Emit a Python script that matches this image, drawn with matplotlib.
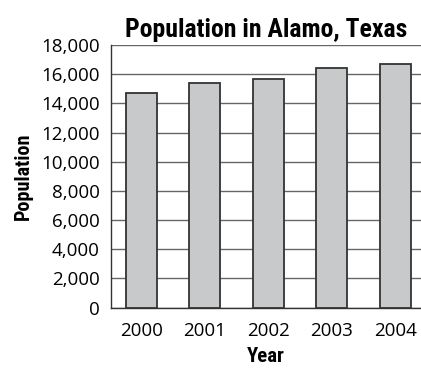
import matplotlib
matplotlib.use('Agg')
import matplotlib.pyplot as plt
from matplotlib.ticker import FuncFormatter

years = ['2000', '2001', '2002', '2003', '2004']
population = [14700, 15400, 15650, 16400, 16700]
y_ticks = list(range(0, 18001, 2000))

TICK_FONT = ['Open Sans', 'DejaVu Sans']
BOLD_FONT = ['Roboto Condensed', 'Liberation Sans Narrow', 'DejaVu Sans']

fig = plt.figure(figsize=(4.21, 3.68), dpi=100)
ax = fig.add_axes([0.2637, 0.1639, 0.7363, 0.7138])

x = list(range(len(years)))
ax.bar(x, population, width=0.49, color='#c8c9cb', edgecolor='#333333',
       linewidth=1.3, zorder=3)

ax.set_xlim(-0.476, 4.406)
ax.set_ylim(0, 18000)
ax.set_yticks(y_ticks)
ax.yaxis.set_major_formatter(FuncFormatter(lambda v, p: '{:,.0f}'.format(v)))
ax.set_xticks(x)
ax.set_xticklabels(years)

ax.grid(axis='y', color='#666666', linewidth=1.0, zorder=0)
ax.tick_params(axis='both', length=0, labelsize=13.5, colors='black')
ax.tick_params(axis='y', pad=8)
ax.tick_params(axis='x', pad=10)
for lab in ax.get_xticklabels() + ax.get_yticklabels():
    lab.set_family(TICK_FONT)

for side in ['top', 'right']:
    ax.spines[side].set_visible(False)
for side in ['left', 'bottom']:
    ax.spines[side].set_color('#333333')
    ax.spines[side].set_linewidth(1.0)

ax.set_title('Population in Alamo, Texas', family=BOLD_FONT, fontweight='bold',
             fontstretch='condensed', fontsize=18.5, pad=6)
ax.set_xlabel('Year', family=BOLD_FONT, fontweight='bold',
              fontstretch='condensed', fontsize=15, labelpad=5)
ax.set_ylabel('Population', family=BOLD_FONT, fontweight='bold',
              fontstretch='condensed', fontsize=14.5, labelpad=6)

fig.savefig('out.png', dpi=100)
